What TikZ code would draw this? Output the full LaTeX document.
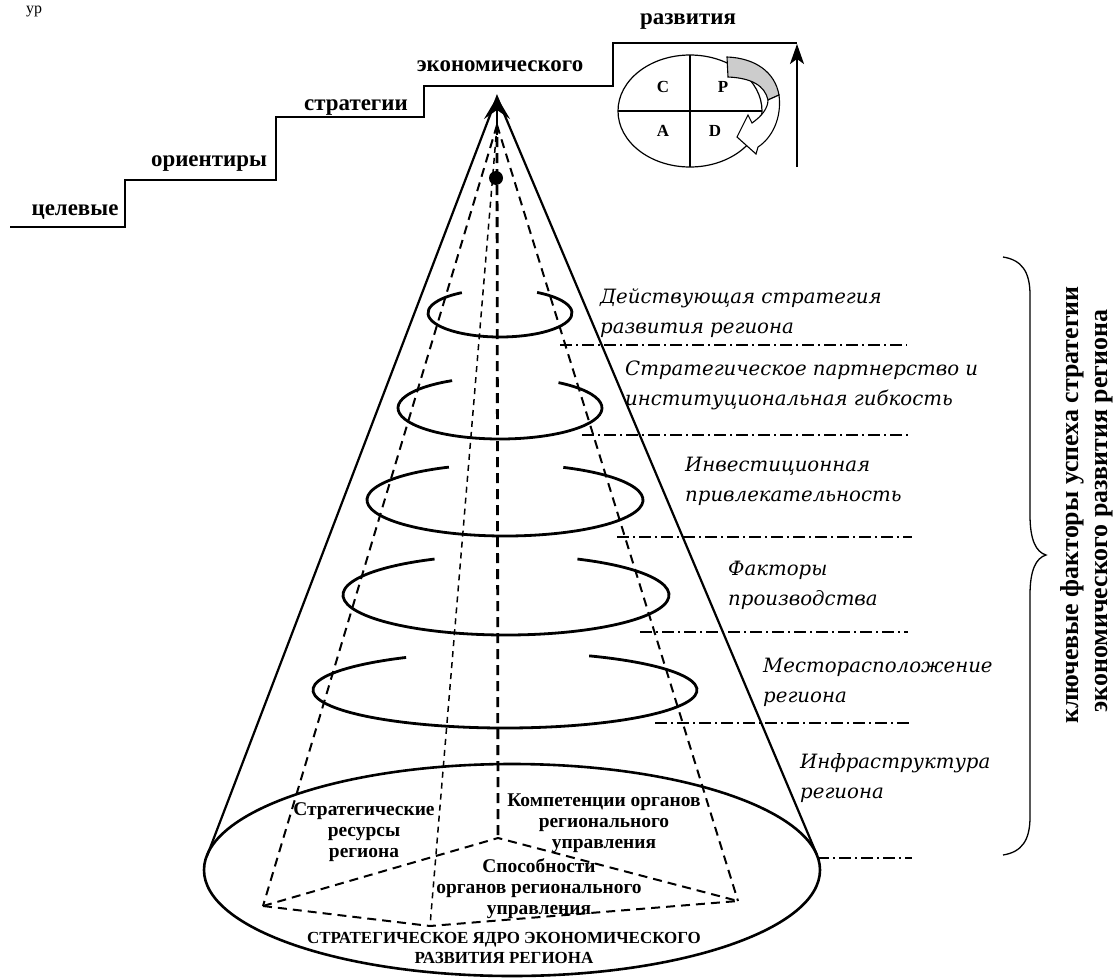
\documentclass[tikz,border=0pt]{standalone}
\usepackage{fontspec}
\setmainfont{Liberation Serif}
\newfontfamily\itfont{DejaVu Serif}
\usetikzlibrary{arrows.meta}
\begin{document}
\begin{tikzpicture}[x=1bp,y=-1bp,
 stairline/.style={line width=1.5bp},
 stairlbl/.style={font=\fontsize{23}{24}\selectfont\bfseries, inner sep=0pt},
 pdcalbl/.style={font=\fontsize{17}{18}\selectfont\bfseries, inner sep=0pt},
 coneline/.style={line width=2.2bp},
 hidden/.style={line width=2bp, dash pattern=on 9bp off 6bp},
 hiddenthin/.style={line width=1.5bp, dash pattern=on 6bp off 5bp},
 axisline/.style={line width=2.8bp, dash pattern=on 10bp off 6bp},
 spiral/.style={line width=2.8bp},
 sepline/.style={line width=1.1bp, dash pattern=on 12bp off 4bp on 2bp off 4bp},
 itlbl/.style={font=\itfont\itshape\fontsize{19.8}{30}\selectfont, align=left, anchor=west, inner sep=0pt},
 baselbl/.style={font=\fontsize{19.5}{21}\selectfont\bfseries, align=center, inner sep=0pt},
 caplbl/.style={font=\fontsize{17}{20}\selectfont\bfseries, align=center, inner sep=0pt},
 vlbl/.style={font=\fontsize{26}{32}\selectfont\bfseries, rotate=90, inner sep=0pt}]
\useasboundingbox (0,0) rectangle (1119,980);

% fragment at the top
\node[font=\fontsize{16}{18}\selectfont, anchor=base west, inner sep=0pt] (frag) at (26,13) {ур};

% staircase
\draw[stairline] (10,227) -- (125,227) -- (125,180) -- (276,180) -- (276,117) -- (424,117) -- (424,86) -- (613,86) -- (613,43) -- (797,43);
\node[stairlbl] (s1) at (75,212) {целевые};
\node[stairlbl] (s2) at (209,164) {ориентиры};
\node[stairlbl] (s3) at (356,108) {стратегии};
\node[stairlbl] (s4) at (500,66) {экономического};
\node[stairlbl] (s5) at (688,22) {развития};
\coordinate (vb) at (797,167);
\coordinate (vt) at (797,44);
\draw[line width=1.6bp, -{Stealth[length=20bp, width=14bp, inset=5bp]}] (vb) -- (vt);

% PDCA
\draw[line width=1.2bp] (690,111) ellipse [x radius=72, y radius=56];
\draw[line width=1.2bp] (690,55) -- (690,167);
\draw[line width=1.2bp] (618,111) -- (762,111);
\node[pdcalbl] (pc) at (663,87) {C};
\node[pdcalbl] (pp) at (723,87) {P};
\node[pdcalbl] (pa) at (663,131) {A};
\node[pdcalbl] (pd) at (715,131) {D};
\draw[line width=1.1bp, fill=gray!40] (727,57) .. controls (755,58) and (775,72) .. (779,95) -- (768,100) .. controls (765,86) and (752,78) .. (728,77) -- cycle;
\draw[line width=1.1bp, fill=white] (779,95) .. controls (782,118) and (772,138) .. (758,147) -- (756,154) -- (737,137) -- (748,115) -- (752,123) .. controls (762,116) and (768,108) .. (768,100) -- cycle;

% cone
\coordinate (apex) at (497,97);
\coordinate (tl) at (207,856);
\coordinate (tr) at (817,855);
\coordinate (P) at (497,125);
\coordinate (L) at (263,906);
\coordinate (B) at (498,838);
\coordinate (R) at (738,901);
\coordinate (F) at (430,926);
\draw[line width=2.6bp] (512,870) ellipse [x radius=308, y radius=106];
\draw[coneline] (tl) -- (apex) -- (tr);
\draw[line width=2bp, -{Stealth[length=22bp, width=26bp, inset=9bp]}] (497,135) -- (apex);
\draw[axisline] (497,137) -- (B);
\fill (496,178) circle (7);
\draw[hidden] (P) -- (L);
\draw[hidden] (P) -- (R);
\draw[hiddenthin] (P) -- (F);
\draw[hidden] (L) -- (B) -- (R);
\draw[hidden] (L) -- (F) -- (R);

% spirals
\draw[spiral] (500,313) ++(-59:72 and 24) arc[start angle=-59, end angle=238, x radius=72, y radius=24];
\draw[spiral] (500,408) ++(-55:102 and 31) arc[start angle=-55, end angle=242, x radius=102, y radius=31];
\draw[spiral] (505,500) ++(-65:138 and 36) arc[start angle=-65, end angle=246, x radius=138, y radius=36];
\draw[spiral] (506,595) ++(-64:163 and 40) arc[start angle=-64, end angle=244, x radius=163, y radius=40];
\draw[spiral] (505,690) ++(-64:192 and 38) arc[start angle=-64, end angle=239, x radius=192, y radius=38];

% separators
\draw[sepline] (560,345) -- (907,345);
\draw[sepline] (582,435) -- (912,435);
\draw[sepline] (617,537) -- (912,537);
\draw[sepline] (640,632) -- (908,632);
\draw[sepline] (655,723) -- (912,723);
\draw[sepline] (817,858) -- (912,858);

% right labels
\node[itlbl] (f1) at (600,313) {Действующая стратегия\\развития региона};
\node[itlbl] (f2) at (625,385) {Стратегическое партнерство и\\институциональная гибкость};
\node[itlbl] (f3) at (685,481) {Инвестиционная\\привлекательность};
\node[itlbl] (f4) at (728,585) {Факторы\\производства};
\node[itlbl] (f5) at (763,682) {Месторасположение\\региона};
\node[itlbl] (f6) at (800,778) {Инфраструктура\\региона};

% base labels
\node[baselbl] (b1) at (364,832) {Стратегические\\ресурсы\\региона};
\node[baselbl] (b2) at (604,823) {Компетенции органов\\регионального\\управления};
\node[baselbl] (b3) at (539,889) {Способности\\органов регионального\\управления};
\node[caplbl] (b4) at (504,948) {СТРАТЕГИЧЕСКОЕ ЯДРО ЭКОНОМИЧЕСКОГО\\РАЗВИТИЯ РЕГИОНА};

% brace and vertical text
\draw[line width=1.3bp] (1003,257) .. controls (1022,260) and (1030,272) .. (1030,295) -- (1030,515) .. controls (1030,540) and (1036,552) .. (1046,555) .. controls (1036,558) and (1030,570) .. (1030,595) -- (1030,817) .. controls (1030,840) and (1022,852) .. (1003,855);
\node[vlbl] (k1) at (1072,505) {ключевые факторы успеха стратегии};
\node[vlbl] (k2) at (1104,511) {экономического развития региона};
\end{tikzpicture}
\end{document}
